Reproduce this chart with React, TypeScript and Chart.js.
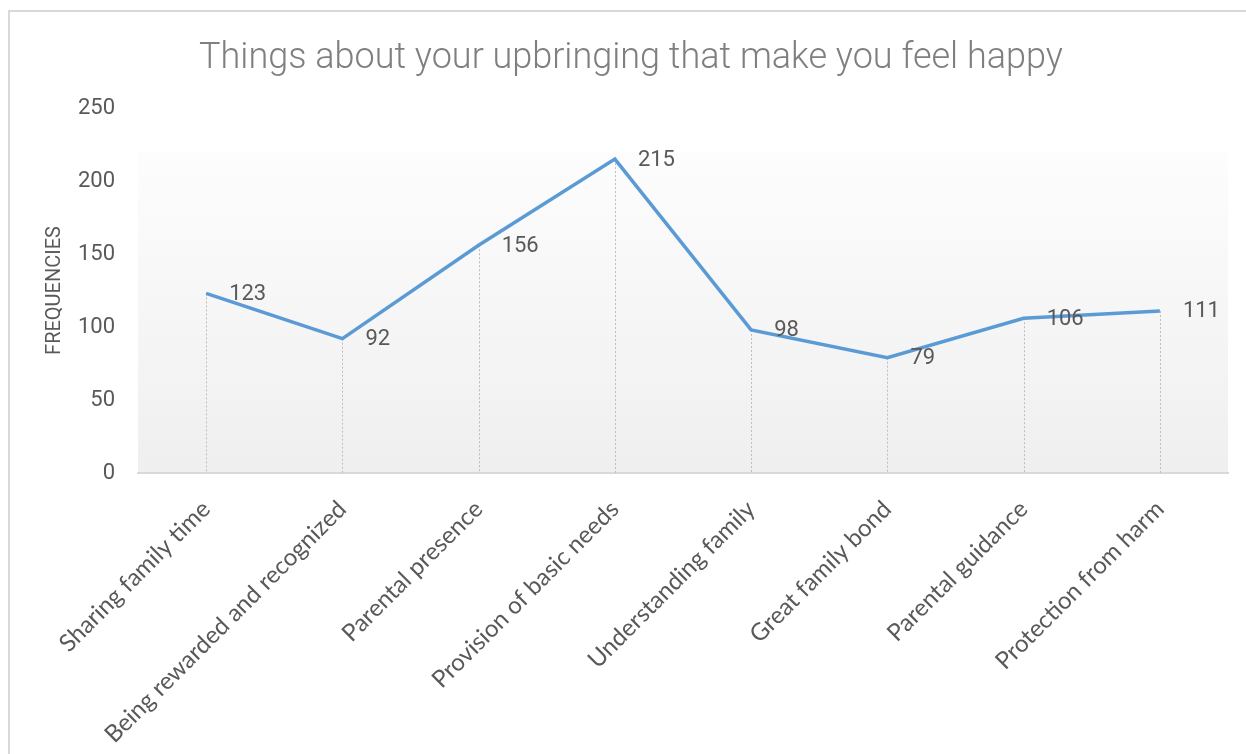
import React, { useEffect, useRef } from "react";
import { Chart, registerables } from "chart.js";

Chart.register(...registerables);

const chartTitle = "Things about your upbringing that make you feel happy";
const yAxisTitle = "FREQUENCIES";
const categories = [
  "Sharing family time",
  "Being rewarded and recognized",
  "Parental presence",
  "Provision of basic needs",
  "Understanding family",
  "Great family bond",
  "Parental guidance",
  "Protection from harm",
];
const frequencies = [123, 92, 156, 215, 98, 79, 106, 111];
const yMin = 0;
const yMax = 250;
const yStep = 50;

const BG_TOP_VALUE = 220;
const TEXT_GRAY = "#595959";

const plotBackground = {
  id: "plotBackground",
  beforeDraw(chart: any) {
    const { ctx, chartArea } = chart;
    const y = chart.scales.y;
    const top = y.getPixelForValue(BG_TOP_VALUE);
    const g = ctx.createLinearGradient(0, top, 0, chartArea.bottom);
    g.addColorStop(0, "#fdfdfd");
    g.addColorStop(1, "#efefef");
    ctx.save();
    ctx.fillStyle = g;
    ctx.fillRect(chartArea.left, top, chartArea.right - chartArea.left, chartArea.bottom - top);
    ctx.restore();
  },
};

const dropLines = {
  id: "dropLines",
  beforeDatasetsDraw(chart: any) {
    const { ctx, chartArea } = chart;
    const meta = chart.getDatasetMeta(0);
    ctx.save();
    ctx.strokeStyle = "#bdbdbd";
    ctx.lineWidth = 1;
    ctx.setLineDash([2, 2]);
    meta.data.forEach((pt: any) => {
      const x = Math.round(pt.x) + 0.5;
      ctx.beginPath();
      ctx.moveTo(x, pt.y);
      ctx.lineTo(x, chartArea.bottom);
      ctx.stroke();
    });
    ctx.restore();
  },
};

const valueLabels = {
  id: "valueLabels",
  afterDatasetsDraw(chart: any) {
    const { ctx } = chart;
    const meta = chart.getDatasetMeta(0);
    const ds = chart.data.datasets[0];
    ctx.save();
    ctx.fillStyle = TEXT_GRAY;
    ctx.font = "22px Roboto";
    ctx.textAlign = "left";
    ctx.textBaseline = "middle";
    meta.data.forEach((pt: any, i: number) => {
      ctx.fillText(String(ds.data[i]), pt.x + 23, pt.y + 1);
    });
    ctx.restore();
  },
};

export default function App() {
  const canvasRef = useRef<HTMLCanvasElement | null>(null);

  useEffect(() => {
    const canvas = canvasRef.current;
    if (!canvas) return;
    const chart = new Chart(canvas, {
      type: "line",
      data: {
        labels: categories,
        datasets: [
          {
            label: yAxisTitle,
            data: frequencies,
            borderColor: "#5b9bd5",
            borderWidth: 3.5,
            pointRadius: 0,
            pointHoverRadius: 0,
            tension: 0,
            fill: false,
          },
        ],
      },
      options: {
        responsive: false,
        animation: false,
        devicePixelRatio: 1,
        layout: { padding: { left: 24, right: 18, top: 0, bottom: 0 } },
        plugins: {
          legend: { display: false },
          tooltip: { enabled: false },
          title: {
            display: true,
            text: chartTitle,
            color: "#7f7f7f",
            font: { family: "Roboto", size: 36, weight: "300" as any, lineHeight: 1.2 },
            padding: { top: 25, bottom: 27.8 },
          },
        },
        scales: {
          x: {
            offset: true,
            grid: { display: false, drawTicks: false },
            border: { display: true, color: "#d9d9d9", width: 2 },
            ticks: {
              autoSkip: false,
              maxRotation: 45,
              minRotation: 45,
              padding: 22,
              color: TEXT_GRAY,
              font: { family: "Lato", size: 24 },
            },
            afterFit(scale: any) {
              scale.height = 281;
            },
          },
          y: {
            min: yMin,
            max: yMax,
            grid: { display: false, drawTicks: false },
            border: { display: false },
            ticks: {
              stepSize: yStep,
              padding: 23,
              color: TEXT_GRAY,
              font: { family: "Roboto", size: 22 },
            },
            title: {
              display: true,
              text: yAxisTitle,
              color: TEXT_GRAY,
              font: { family: "Roboto", size: 20 },
              padding: { top: 9, bottom: 0 },
            },
            afterFit(scale: any) {
              scale.width = 104;
            },
          },
        },
      },
      plugins: [plotBackground, dropLines, valueLabels],
    });
    return () => chart.destroy();
  }, []);

  return (
    <div
      style={{
        position: "absolute",
        left: 8,
        top: 10,
        width: 1238,
        height: 744,
        boxSizing: "border-box",
        borderLeft: "2px solid #d9d9d9",
        borderTop: "2px solid #d9d9d9",
        background: "#ffffff",
      }}
    >
      <canvas ref={canvasRef} width={1236} height={742} style={{ display: "block", width: 1236, height: 742 }} />
    </div>
  );
}
